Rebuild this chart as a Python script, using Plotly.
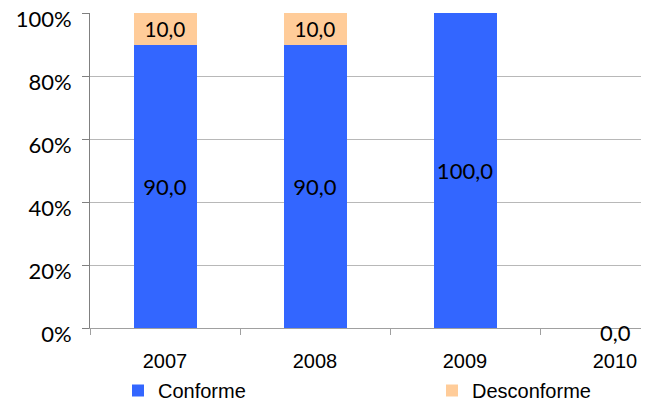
import plotly.graph_objects as go

years = ["2007", "2008", "2009", "2010"]
conforme = [90.0, 90.0, 100.0, 0.0]
desconforme = [10.0, 10.0, 0.0, 0.0]
y_ticks = [0, 20, 40, 60, 80, 100]
y_tick_labels = ["0%", "20%", "40%", "60%", "80%", "100%"]

OFF = 8  # page body margin
W, H = 649 - OFF, 405 - OFF
L, T, B = 90 - OFF, 13 - OFF, 405 - 328

label_font = dict(family="Lato, Calibri, sans-serif", size=22, color="#000000")
axis_font = dict(family="Liberation Sans, Arial, sans-serif", size=20, color="#000000")

def fmt(v):
    return f"{v:.1f}".replace(".", ",")

fig = go.Figure()
fig.add_trace(go.Bar(
    x=years, y=conforme, name="Conforme",
    marker=dict(color="#3366FF", line=dict(width=0)),
    text=[fmt(v) if v > 0 else "" for v in conforme],
    textposition="inside", insidetextanchor="middle",
    textfont=label_font, width=0.42, legend="legend",
))
fig.add_trace(go.Bar(
    x=years, y=desconforme, name="Desconforme",
    marker=dict(color="#FFCC99", line=dict(width=0)),
    text=[fmt(v) if v > 0 else "" for v in desconforme],
    textposition="inside", insidetextanchor="middle",
    textfont=label_font, width=0.42, legend="legend2",
))

for i, (c, d) in enumerate(zip(conforme, desconforme)):
    if c + d == 0:
        fig.add_annotation(x=i, y=c, xref="x", yref="y", text=fmt(c),
                           showarrow=False, xanchor="center", yanchor="middle",
                           yshift=-4, font=label_font)

plot_w = W - L
right = -0.5 + plot_w / 150.0

leg_common = dict(
    orientation="h", xref="container", yref="container",
    xanchor="left", yanchor="top", font=axis_font,
    bgcolor="rgba(0,0,0,0)", borderwidth=0,
)

fig.update_layout(
    width=W, height=H,
    margin=dict(l=L, r=0, t=T, b=B, pad=0, autoexpand=False),
    barmode="stack",
    plot_bgcolor="#FFFFFF", paper_bgcolor="#FFFFFF",
    showlegend=True,
    legend=dict(x=(118 - OFF) / W, y=1 - (371 - OFF) / H, **leg_common),
    legend2=dict(x=(432 - OFF) / W, y=1 - (371 - OFF) / H, **leg_common),
    xaxis=dict(
        type="category", range=[-0.5, right],
        showline=True, linecolor="#A0A0A0", linewidth=1,
        ticks="outside", tickson="boundaries", ticklen=6, tickcolor="#A0A0A0",
        showgrid=False, tickfont=axis_font, ticklabelstandoff=15,
    ),
    yaxis=dict(
        range=[0, 100], tickmode="array", tickvals=y_ticks, ticktext=y_tick_labels,
        showline=True, linecolor="#808080", linewidth=1,
        ticks="outside", ticklen=7, tickcolor="#808080",
        showgrid=True, gridcolor="#B8B8B8", gridwidth=1,
        tickfont=dict(family="Lato, Calibri, sans-serif", size=22, color="#000000"),
        zeroline=False, ticklabelstandoff=6, ticklabeloverflow="allow",
        ticklabelshift=6,
    ),
)

fig.write_html("out.html")
